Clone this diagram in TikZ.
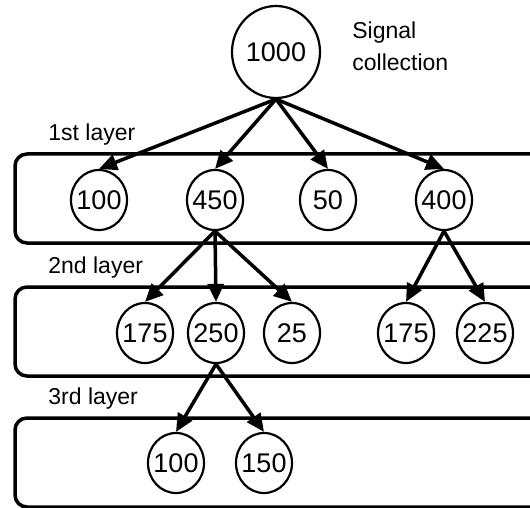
\documentclass[tikz,border=0pt]{standalone}
\usepackage{fontspec}
\setmainfont{Liberation Sans}
\usetikzlibrary{arrows.meta,shapes.geometric}
\begin{document}
\begin{tikzpicture}[x=0.5pt,y=-0.5pt,
    val/.style={draw,ellipse,line width=1.1pt,minimum width=28pt,minimum height=30pt,inner xsep=-5pt,inner ysep=0pt,font=\fontsize{13.5}{15}\selectfont},
    layerbox/.style={draw,line width=1.75pt,rounded corners=6pt},
    tag/.style={anchor=west,inner sep=0pt,font=\fontsize{11.5}{16}\selectfont},
    link/.style={line width=1.75pt,-{Triangle[length=9pt,width=8pt]}}]
    \useasboundingbox (0,0) rectangle (530,508);
    \clip (0,0) rectangle (530,508);

    % layer boxes
    \foreach \top/\name in {154/1st, 287/2nd, 418/3rd} {
        \draw[layerbox] (15,\top) rectangle (560,\top+89);
        \node[tag] at (48,\top-19) {\name{} layer};
    }

    % signal collection
    \node[val,minimum width=44pt,minimum height=46pt] (root) at (276,52) {1000};
    \node[tag,align=left] at (352,46) {Signal\\collection};

    % 1st layer
    \foreach \x/\v/\n in {99/100/a, 215/450/b, 328/50/c, 444/400/d} {
        \node[val] (l1\n) at (\x,200) {\v};
    }
    % 2nd layer
    \foreach \x/\v/\n in {145/175/a, 216/250/b, 292/25/c, 406/175/d, 485/225/e} {
        \node[val] (l2\n) at (\x,333) {\v};
    }
    % 3rd layer
    \foreach \x/\v/\n in {176/100/a, 264/150/b} {
        \node[val] (l3\n) at (\x,463) {\v};
    }

    % arrows
    \foreach \n in {a,b,c,d} {
        \draw[link] (root.south) -- (l1\n.north);
    }
    \foreach \n in {a,b,c} {
        \draw[link] (l1b.south) -- (l2\n.north);
    }
    \foreach \n in {d,e} {
        \draw[link] (l1d.south) -- (l2\n.north);
    }
    \foreach \n in {a,b} {
        \draw[link] (l2b.south) -- (l3\n.north);
    }
\end{tikzpicture}
\end{document}
